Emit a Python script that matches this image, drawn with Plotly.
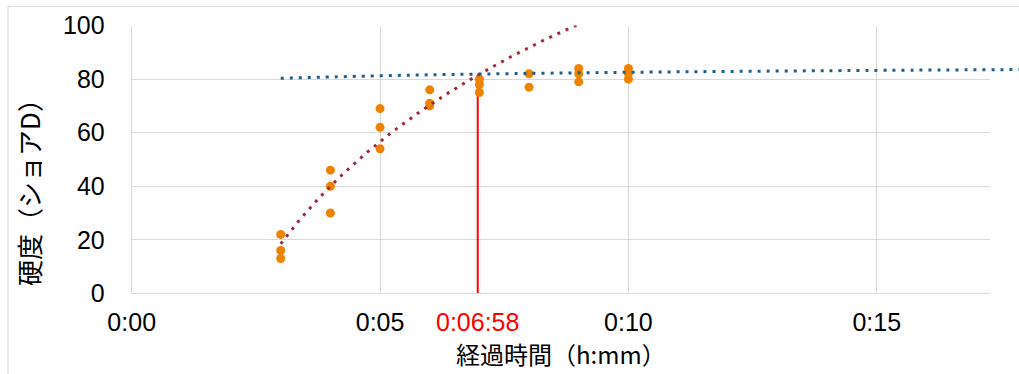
import numpy as np
import plotly.graph_objects as go

# ---- data ----
t_min = [3, 3, 3, 4, 4, 4, 5, 5, 5, 6, 6, 6, 7, 7, 7, 8, 8, 9, 9, 9, 10, 10, 10]
hardness = [22, 16, 13, 46, 40, 30, 69, 62, 54, 76, 71, 70, 80, 78, 75, 82, 77, 84, 82, 79, 84, 82, 80]

# plateau trend line
plateau_t = [3, 5, 7, 10, 14, 18]
plateau_y = [80.3, 81.25, 81.9, 82.55, 83.15, 83.6]

cross_time = 6 + 58 / 60  # 0:06:58
cross_label = "0:06:58"

x_tickvals = [0, 5, 10, 15]
x_ticktext = ["0:00", "0:05", "0:10", "0:15"]
y_tickvals = [0, 20, 40, 60, 80, 100]
x_title = "経過時間（h:mm）"
y_title = "硬度（ショアD）"

# ---- rising-phase log trendline (fit of 3..7 min points) ----
tt = np.array(t_min, float)
yy = np.array(hardness, float)
mask = tt <= 7
a, b = np.polyfit(np.log(tt[mask]), yy[mask], 1)
t_fit = np.linspace(3, 9.6, 300)
y_fit = a * np.log(t_fit) + b
cross_y = a * np.log(cross_time) + b

W, H = 1019, 374
L, R, T, B = 131.7, 990, 25.6, 293.3
xd = [L / W, R / W]
yd = [(H - B) / H, (H - T) / H]
XMAX = 17.28
x2max = XMAX * (1 - xd[0]) / (xd[1] - xd[0])

BLUE = "#215f88"
RED_T = "#a0283c"
ORANGE = "#ef8300"
GRID = "#d9d9d9"
NUMFONT = "Liberation Sans, Arial, sans-serif"
JPFONT = "Noto Sans CJK JP, sans-serif"

fig = go.Figure()
fig.add_trace(go.Scatter(x=[cross_time, cross_time], y=[0, cross_y], mode="lines",
                         line=dict(color="#ff0000", width=2), showlegend=False, hoverinfo="skip"))
fig.add_trace(go.Scatter(x=t_min, y=hardness, mode="markers",
                         marker=dict(color=ORANGE, size=9), showlegend=False))
fig.add_trace(go.Scatter(x=t_fit, y=y_fit, mode="lines",
                         line=dict(color=RED_T, width=3, dash="3px,6px"), showlegend=False))
fig.add_trace(go.Scatter(x=plateau_t, y=plateau_y, mode="lines", xaxis="x2", yaxis="y2",
                         line=dict(color=BLUE, width=3, dash="3px,6px", shape="spline"),
                         showlegend=False))

fig.update_layout(
    width=W, height=H,
    margin=dict(l=0, r=0, t=0, b=0),
    paper_bgcolor="white", plot_bgcolor="rgba(0,0,0,0)",
    xaxis=dict(domain=xd, range=[0, XMAX], tickvals=x_tickvals, ticktext=x_ticktext,
               showgrid=True, gridcolor=GRID, gridwidth=1, zeroline=False,
               showline=True, linecolor=GRID, linewidth=1, ticks="",
               tickfont=dict(family=NUMFONT, size=25, color="#000"),
               ticklabelstandoff=7,
               title=dict(text=x_title, font=dict(family=JPFONT, size=24, color="#000"),
                          standoff=1),
               automargin=False, fixedrange=True),
    yaxis=dict(domain=yd, range=[0, 100], tickvals=y_tickvals,
               showgrid=True, gridcolor=GRID, gridwidth=1, zeroline=False,
               showline=True, linecolor=GRID, linewidth=1, ticks="",
               tickfont=dict(family=NUMFONT, size=25, color="#000"),
               ticklabelstandoff=21,
               automargin=False, fixedrange=True),
    xaxis2=dict(domain=[xd[0], 1.0], range=[0, x2max], anchor="y2", visible=False,
                showgrid=False, zeroline=False, fixedrange=True),
    yaxis2=dict(domain=yd, range=[0, 100], anchor="x2", visible=False,
                showgrid=False, zeroline=False, fixedrange=True),
    shapes=[dict(type="rect", xref="paper", yref="paper",
                 x0=8 / W, x1=1.05, y0=-0.05, y1=1 - 6.5 / H,
                 line=dict(color=GRID, width=1), fillcolor="rgba(0,0,0,0)", layer="below")],
    annotations=[
        dict(text=cross_label, x=cross_time, xref="x", y=1 - 322 / H, yref="paper",
             xanchor="center", yanchor="middle", showarrow=False,
             font=dict(family=NUMFONT, size=25, color="#ff0000")),
        dict(text=y_title, x=28.5 / W, y=1 - 186.5 / H, xref="paper", yref="paper",
             xanchor="center", yanchor="middle", textangle=-90, showarrow=False,
             font=dict(family=JPFONT, size=26, color="#000")),
    ],
)

fig.write_html("out.html")
